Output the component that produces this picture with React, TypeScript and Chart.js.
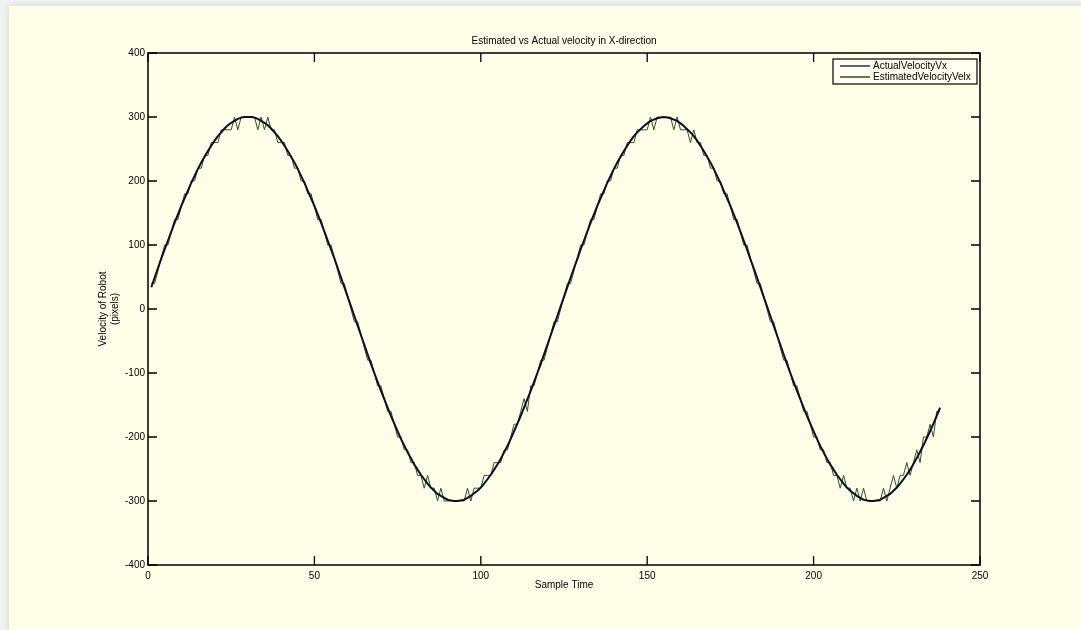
import React, { useEffect, useRef } from "react";
import { Chart, registerables } from "chart.js";

Chart.register(...registerables);

const chartTitle = "Estimated vs Actual velocity in X-direction";
const xTitle = "Sample Time";
const yTitle = ["Velocity of Robot", "(pixels)"];
const seriesNames = ["ActualVelocityVx", "EstimatedVelocityVelx"];
const xTicks = [0, 50, 100, 150, 200, 250];
const yTicks = [-400, -300, -200, -100, 0, 100, 200, 300, 400];

// Sample times 1..238 (value at index i is sample i+1)
const actualVx = [
  34, 49, 64, 79, 93, 107, 121, 135, 148, 161,
  173, 185, 197, 208, 219, 229, 238, 247, 255, 263,
  270, 276, 282, 287, 291, 294, 297, 299, 300, 300,
  300, 299, 297, 294, 291, 287, 282, 276, 270, 263,
  255, 247, 238, 229, 219, 208, 197, 185, 173, 161,
  148, 135, 121, 107, 93, 79, 64, 49, 34, 19,
  4, -11, -26, -41, -56, -71, -86, -100, -114, -128,
  -141, -154, -167, -179, -191, -203, -213, -224, -233, -243,
  -251, -259, -266, -273, -279, -284, -289, -292, -295, -298,
  -299, -300, -300, -299, -298, -295, -292, -288, -284, -279,
  -273, -266, -259, -251, -243, -234, -224, -214, -203, -191,
  -179, -167, -154, -141, -128, -114, -100, -86, -71, -56,
  -41, -26, -11, 4, 19, 34, 49, 64, 78, 93,
  107, 121, 135, 148, 161, 173, 185, 197, 208, 219,
  229, 238, 247, 255, 263, 270, 276, 281, 286, 290,
  294, 296, 298, 299, 300, 299, 298, 296, 294, 290,
  286, 281, 276, 270, 263, 255, 247, 238, 229, 219,
  208, 197, 185, 173, 161, 148, 135, 121, 107, 93,
  78, 64, 49, 34, 19, 4, -11, -26, -41, -56,
  -71, -86, -100, -114, -128, -141, -154, -167, -179, -191,
  -203, -214, -224, -234, -243, -251, -259, -266, -273, -279,
  -284, -288, -292, -295, -298, -299, -300, -300, -299, -298,
  -295, -292, -289, -284, -279, -273, -266, -259, -251, -242,
  -233, -223, -213, -202, -191, -179, -167, -154,
];

const estimatedVelx = [
  40, 40, 60, 80, 100, 100, 120, 140, 140, 160,
  180, 180, 200, 200, 220, 220, 240, 240, 260, 260,
  260, 280, 280, 280, 280, 300, 280, 300, 300, 300,
  300, 300, 280, 300, 280, 300, 280, 280, 260, 260,
  260, 240, 240, 220, 220, 200, 200, 180, 180, 160,
  140, 140, 120, 100, 100, 80, 60, 40, 40, 20,
  0, -20, -20, -40, -60, -80, -80, -100, -120, -120,
  -140, -160, -160, -180, -200, -200, -220, -220, -240, -240,
  -260, -260, -280, -260, -280, -280, -300, -280, -300, -300,
  -300, -300, -300, -300, -300, -280, -300, -280, -280, -280,
  -260, -260, -260, -240, -240, -240, -220, -220, -200, -180,
  -180, -160, -140, -160, -120, -120, -100, -80, -80, -60,
  -40, -20, -20, 0, 20, 40, 40, 60, 80, 100,
  100, 120, 140, 140, 160, 180, 180, 200, 200, 220,
  220, 240, 240, 260, 260, 260, 280, 280, 280, 280,
  300, 280, 300, 300, 300, 300, 300, 280, 300, 280,
  280, 280, 260, 280, 260, 260, 240, 240, 220, 220,
  200, 200, 180, 180, 160, 140, 140, 120, 100, 100,
  80, 60, 40, 40, 20, 0, -20, -20, -40, -60,
  -80, -80, -100, -120, -120, -140, -160, -160, -180, -200,
  -200, -220, -220, -240, -240, -260, -260, -280, -260, -280,
  -280, -300, -280, -300, -280, -300, -300, -300, -300, -300,
  -280, -300, -280, -260, -280, -260, -260, -240, -260, -240,
  -220, -240, -200, -200, -180, -200, -160, -160,
];

const ACTUAL_COLOR = "#0e0e22";
const EST_COLOR = "#2f5322";
const FONT = "'Liberation Sans', Arial, sans-serif";

const decorPlugin = {
  id: "decor",
  afterDraw(chart: any) {
    const { ctx, chartArea } = chart;
    const xs = chart.scales.x;
    const ys = chart.scales.y;
    const { left, right, top, bottom } = chartArea;
    ctx.save();
    ctx.strokeStyle = "#000";
    ctx.lineWidth = 1.5;
    ctx.strokeRect(left, top, right - left, bottom - top);
    const tl = 9;
    ctx.lineWidth = 1.3;
    ctx.beginPath();
    xTicks.forEach((v) => {
      const px = xs.getPixelForValue(v);
      ctx.moveTo(px, bottom);
      ctx.lineTo(px, bottom - tl);
      ctx.moveTo(px, top);
      ctx.lineTo(px, top + tl);
    });
    yTicks.forEach((v) => {
      const py = ys.getPixelForValue(v);
      ctx.moveTo(left, py);
      ctx.lineTo(left + tl, py);
      ctx.moveTo(right, py);
      ctx.lineTo(right - tl, py);
    });
    ctx.stroke();

    // Titles
    ctx.fillStyle = "#000";
    ctx.font = `10px ${FONT}`;
    ctx.textAlign = "center";
    ctx.textBaseline = "middle";
    const cx = (left + right) / 2;
    ctx.fillText(chartTitle, cx, 41);
    ctx.fillText(xTitle, cx, 585);
    const cy = (top + bottom) / 2;
    [103, 115].forEach((x, i) => {
      ctx.save();
      ctx.translate(x, cy);
      ctx.rotate(-Math.PI / 2);
      ctx.fillText(yTitle[i], 0, 0);
      ctx.restore();
    });

    // Legend
    const lx = 833, ly = 59, lw = 144, lh = 25;
    ctx.fillStyle = "#fffff0";
    ctx.fillRect(lx, ly, lw, lh);
    ctx.strokeStyle = "#000";
    ctx.lineWidth = 1.2;
    ctx.strokeRect(lx, ly, lw, lh);
    const rows = [66, 77];
    const cols = [ACTUAL_COLOR, "#1a2a14"];
    rows.forEach((ry, i) => {
      ctx.strokeStyle = cols[i];
      ctx.lineWidth = 1.3;
      ctx.beginPath();
      ctx.moveTo(840, ry);
      ctx.lineTo(870, ry);
      ctx.stroke();
      ctx.fillStyle = "#000";
      ctx.textAlign = "left";
      ctx.fillText(seriesNames[i], 873, ry);
    });
    ctx.restore();
  },
};

export default function App() {
  const ref = useRef<HTMLCanvasElement | null>(null);
  useEffect(() => {
    document.body.style.margin = "0";
    const canvas = ref.current!;
    const chart = new Chart(canvas, {
      type: "line",
      data: {
        datasets: [
          {
            label: seriesNames[0],
            data: actualVx.map((v, i) => ({ x: i + 1, y: v })),
            borderColor: ACTUAL_COLOR,
            borderWidth: 2,
            pointRadius: 0,
            fill: false,
            tension: 0,
          },
          {
            label: seriesNames[1],
            data: estimatedVelx.map((v, i) => ({ x: i + 1, y: v })),
            borderColor: EST_COLOR,
            borderWidth: 1,
            pointRadius: 0,
            fill: false,
            tension: 0,
          },
        ],
      },
      options: {
        animation: false,
        responsive: false,
        events: [],
        layout: { padding: { left: 0, right: 101, top: 53, bottom: 0 } },
        plugins: {
          legend: { display: false },
          title: { display: false },
          tooltip: { enabled: false },
        },
        scales: {
          x: {
            type: "linear",
            min: 0,
            max: 250,
            afterFit: (s: any) => {
              s.height = 65;
            },
            afterBuildTicks: (s: any) => {
              s.ticks = xTicks.map((v) => ({ value: v }));
            },
            grid: { display: false, drawTicks: false },
            border: { display: false },
            ticks: {
              padding: 5,
              color: "#000",
              font: { size: 10, family: FONT },
              maxRotation: 0,
            },
          },
          y: {
            type: "linear",
            min: -400,
            max: 400,
            afterFit: (s: any) => {
              s.width = 148;
            },
            afterBuildTicks: (s: any) => {
              s.ticks = yTicks.map((v) => ({ value: v }));
            },
            grid: { display: false, drawTicks: false },
            border: { display: false },
            ticks: {
              padding: 3,
              color: "#000",
              font: { size: 10, family: FONT },
            },
          },
        },
      },
      plugins: [decorPlugin],
    });
    return () => chart.destroy();
  }, []);

  return (
    <div
      style={{
        position: "fixed",
        left: 0,
        top: 0,
        width: 1081,
        height: 630,
        background: "#f1f1f1",
        overflow: "hidden",
      }}
    >
      <div
        style={{
          position: "absolute",
          left: 9,
          top: 6,
          width: 1080,
          height: 630,
          background: "#fefee9",
          boxShadow: "0 0 6px rgba(0,0,0,0.12)",
        }}
      />
      <canvas
        ref={ref}
        width={1081}
        height={630}
        style={{ position: "absolute", left: 0, top: 0, width: 1081, height: 630 }}
      />
    </div>
  );
}
